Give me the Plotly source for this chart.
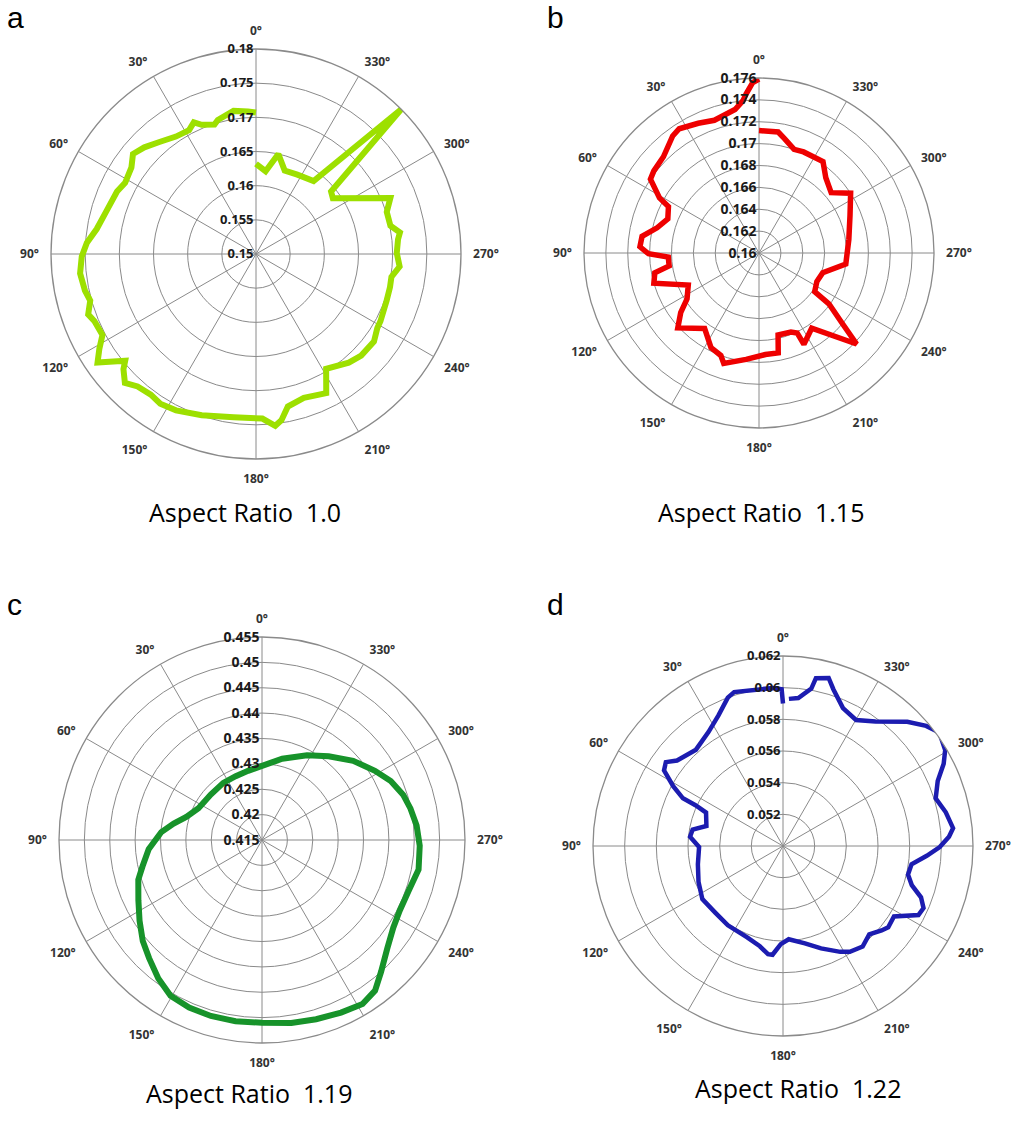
import plotly.graph_objects as go

# ---------------- data ----------------
angle_ticks = [0, 30, 60, 90, 120, 150, 180, 210, 240, 270, 300, 330]
angle_labels = ["0°", "30°", "60°", "90°", "120°", "150°", "180°", "210°", "240°", "270°", "300°", "330°"]

panel_letters = ["a", "b", "c", "d"]
panel_titles = ["Aspect Ratio  1.0", "Aspect Ratio  1.15", "Aspect Ratio  1.19", "Aspect Ratio  1.22"]

# (a) Aspect ratio 1.0
theta_a = [0, 3.2, 8.9, 15.9, 17.8, 22.8, 25.3, 28.4, 34.3, 40.5, 46.3, 50.9, 55.2, 61.5, 65.8,
           74.3, 81.1, 86.2, 90.8, 96.3, 102.1, 105.7, 109.8, 112.6, 117.8, 121.2, 124.4, 129.2,
           131.0, 134.5, 138.2, 143.2, 147.4, 152.9, 161.4, 172.2, 182.2, 186.4, 188.7, 191.8,
           198.4, 206.8, 211.4, 220.5, 226.0, 233.4, 238.6, 241.6, 250.3, 256.1, 260.4, 265.0,
           270.4, 275.9, 278.5, 281.9, 287.8, 292.6, 306.0, 309.8, 314.9, 321.7, 332.5, 341.0,
           347.4, 353.4, 360]
r_a = [0.1707, 0.1709, 0.1712, 0.1704, 0.1699, 0.1705, 0.1713, 0.1706, 0.1708, 0.1716, 0.1726,
       0.1732, 0.1722, 0.1718, 0.1723, 0.1728, 0.1736, 0.1748, 0.1755, 0.1759, 0.1756, 0.1752,
       0.1761, 0.1756, 0.1754, 0.1768, 0.1781, 0.1747, 0.1757, 0.1769, 0.1760, 0.1757, 0.1760,
       0.1757, 0.1749, 0.1741, 0.1741, 0.1753, 0.1746, 0.1728, 0.1722, 0.1728, 0.1697, 0.1709,
       0.1714, 0.1715, 0.1708, 0.1707, 0.1703, 0.1702, 0.1701, 0.1711, 0.1706, 0.1709, 0.1713,
       0.1701, 0.1701, 0.1713, 0.1639, 0.1643, 0.1800, 0.1636, 0.1631, 0.1629, 0.1650, 0.1622,
       0.1632]
rticks_a = [0.15, 0.155, 0.16, 0.165, 0.17, 0.175, 0.18]

# (b) Aspect ratio 1.15
theta_b = [0, 2.1, 4.6, 6.0, 9.5, 18.6, 25.1, 32.7, 36.4, 44.8, 52.0, 55.8, 61.0, 62.9, 69.5,
           76.1, 81.9, 87.0, 90.4, 92.6, 98.2, 100.8, 106.0, 114.4, 122.5, 127.3, 132.7, 144.2,
           153.1, 159.6, 162.3, 173.1, 183.6, 190.9, 193.1, 202.0, 205.5, 206.2, 215.0, 227.0,
           229.9, 234.0, 235.2, 243.7, 252.8, 262.7, 278.4, 292.4, 303.1, 309.9, 318.4, 325.0,
           336.2, 341.3, 347.3, 351.0, 360]
r_b = [0.1759, 0.1756, 0.1746, 0.1740, 0.1733, 0.1728, 0.1731, 0.1735, 0.1733, 0.1724, 0.1722,
       0.1720, 0.1704, 0.1693, 0.1689, 0.1696, 0.1708, 0.1709, 0.1701, 0.1683, 0.1683, 0.1697,
       0.1700, 0.1671, 0.1678, 0.1690, 0.1701, 0.1685, 0.1697, 0.1700, 0.1706, 0.1698, 0.1693,
       0.1693, 0.1677, 0.1678, 0.1681, 0.1693, 0.1684, 0.1722, 0.1699, 0.1679, 0.1662, 0.1659,
       0.1661, 0.1680, 0.1683, 0.1690, 0.1700, 0.1686, 0.1692, 0.1702, 0.1701, 0.1700, 0.1707,
       0.1712, 0.1712]
rticks_b = [0.16, 0.162, 0.164, 0.166, 0.168, 0.17, 0.172, 0.174, 0.176]

# (c) Aspect ratio 1.19
theta_c = [0, 11.4, 22.4, 34.1, 48.4, 63.4, 73.0, 79.5, 85.5, 94.6, 102.4, 107.8, 116.0, 123.4,
           130.3, 136.3, 143.2, 149.6, 156.5, 163.8, 171.7, 180, 189.1, 196.8, 204.6, 211.5,
           216.9, 222.1, 229.3, 236.3, 242.9, 251.2, 259.3, 267.9, 275.4, 282.0, 287.8, 294.6,
           301.5, 311.0, 321.5, 332.0, 346.0, 360]
r_c = [0.4296, 0.4289, 0.4286, 0.4286, 0.4285, 0.4290, 0.4306, 0.4327, 0.4349, 0.4374, 0.4391,
       0.4406, 0.4421, 0.4439, 0.4458, 0.4472, 0.4491, 0.4506, 0.4510, 0.4511, 0.4511, 0.4510,
       0.4515, 0.4519, 0.4524, 0.4529, 0.4521, 0.4500, 0.4476, 0.4461, 0.4455, 0.4456, 0.4464,
       0.4461, 0.4456, 0.4449, 0.4442, 0.4429, 0.4411, 0.4388, 0.4361, 0.4339, 0.4315, 0.4296]
rticks_c = [0.415, 0.42, 0.425, 0.43, 0.435, 0.44, 0.445, 0.45, 0.455]

# (d) Aspect ratio 1.22
theta_d = [0, 0.5, 3.7, 17.6, 20.4, 26.3, 33.2, 42.1, 51.1, 54.4, 57.6, 61.4, 64.5, 65.0, 66.5,
           75.3, 79.7, 84.3, 90.7, 102.2, 113.1, 123.4, 134.7, 145.2, 158.6, 167.0, 172.1, 174.5,
           178.7, 183.5, 192.7, 200.4, 208.4, 212.3, 218.4, 224.3, 229.4, 232.3, 237.6, 243.0,
           246.2, 249.6, 253.1, 257.1, 261.9, 266.1, 269.6, 273.2, 276.0, 281.7, 287.3, 292.8,
           297.1, 300.6, 306.0, 310.0, 315.0, 323.4, 329.9, 336.5, 342.2, 344.8, 348.9, 349.8,
           354.1, 357.7]
r_d = [0.0590, 0.0599, 0.0600, 0.0602, 0.0600, 0.0592, 0.0586, 0.0582, 0.0586, 0.0591, 0.0589,
       0.0579, 0.0570, 0.0561, 0.0553, 0.0550, 0.0558, 0.0559, 0.0553, 0.0555, 0.0558, 0.0561,
       0.0560, 0.0561, 0.0562, 0.0565, 0.0569, 0.0569, 0.0562, 0.0559, 0.0563, 0.0569, 0.0576,
       0.0579, 0.0581, 0.0578, 0.0582, 0.0584, 0.0583, 0.0596, 0.0597, 0.0593, 0.0585, 0.0581,
       0.0582, 0.0591, 0.0599, 0.0605, 0.0608, 0.0605, 0.0601, 0.0606, 0.0614, 0.0619, 0.0622,
       0.0618, 0.0611, 0.0598, 0.0592, 0.0595, 0.0604, 0.0610, 0.0608, 0.0601, 0.0594, 0.0593]
rticks_d = [0.052, 0.054, 0.056, 0.058, 0.06, 0.062]
rrange_d = [0.05, 0.062]

# ---------------- figure ----------------
W, H = 1023, 1148
fig = go.Figure()

panels = [
    dict(theta=theta_a, r=r_a, color="#9de000", width=6, rrange=[0.15, 0.18], rticks=rticks_a,
         center=(256, 254), radius=205, tfs=13),
    dict(theta=theta_b, r=r_b, color="#ee0000", width=5.5, rrange=[0.16, 0.176], rticks=rticks_b,
         center=(759, 253), radius=175, tfs=14),
    dict(theta=theta_c, r=r_c, color="#17932a", width=6, rrange=[0.415, 0.455], rticks=rticks_c,
         center=(262, 840), radius=203, tfs=14),
    dict(theta=theta_d, r=r_d, color="#1c1cb0", width=4.5, rrange=rrange_d, rticks=rticks_d,
         center=(783, 846), radius=190, tfs=13),
]

for i, p in enumerate(panels):
    key = "polar" if i == 0 else f"polar{i+1}"
    fig.add_trace(go.Scatterpolar(
        theta=p["theta"], r=p["r"], mode="lines",
        line=dict(color=p["color"], width=p["width"]),
        subplot=key, showlegend=False, hoverinfo="skip"))
    cx, cy = p["center"]
    rad = p["radius"]
    dom_x = [(cx - rad) / W, (cx + rad) / W]
    dom_y = [(H - cy - rad) / H, (H - cy + rad) / H]
    fig.update_layout(**{key: dict(
        domain=dict(x=dom_x, y=dom_y),
        bgcolor="white",
        angularaxis=dict(
            direction="counterclockwise", rotation=90,
            tickmode="array", tickvals=angle_ticks, ticktext=angle_labels,
            showline=True, linecolor="#8a8a8a", linewidth=1.3,
            showgrid=True, gridcolor="#8a8a8a", gridwidth=1.1,
            ticks="outside", ticklen=9, tickcolor="rgba(0,0,0,0)",
            tickfont=dict(family="Open Sans", size=12, color="#333333", weight=700)),
        radialaxis=dict(
            range=p["rrange"], tickmode="array", tickvals=p["rticks"],
            ticktext=[f"{v:g}" for v in p["rticks"]],
            angle=90, side="counterclockwise", tickangle=90,
            showline=False, ticks="",
            showgrid=True, gridcolor="#8a8a8a", gridwidth=1.1,
            tickfont=dict(family="Open Sans", size=p["tfs"], color="#1a1a1a", weight=700)),
    )})

letter_pos = [(5, 18), (545, 17), (5, 605), (545, 605)]
title_pos = [(245, 512), (761, 512), (249, 1093), (798, 1088)]
ann = []
for (lx, ly), letter in zip(letter_pos, panel_letters):
    ann.append(dict(x=lx / W, y=1 - ly / H, xref="paper", yref="paper", text=letter,
                    showarrow=False, xanchor="left", yanchor="middle",
                    font=dict(family="Liberation Sans", size=30, color="black")))
for (tx, ty), t in zip(title_pos, panel_titles):
    ann.append(dict(x=tx / W, y=1 - ty / H, xref="paper", yref="paper", text=t,
                    showarrow=False, xanchor="center", yanchor="middle",
                    font=dict(family="Open Sans", size=25, color="black")))

fig.update_layout(width=W, height=H, margin=dict(l=0, r=0, t=0, b=0),
                  paper_bgcolor="white", plot_bgcolor="white", annotations=ann)

fig.write_html("out.html")
